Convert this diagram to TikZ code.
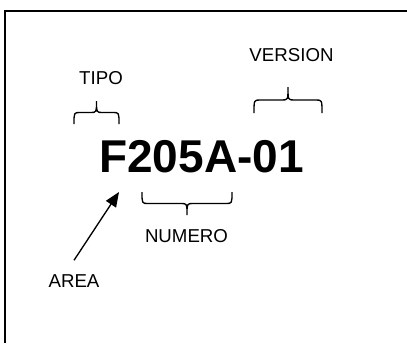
\documentclass[tikz,border=0pt]{standalone}
\usepackage{fontspec}
\setmainfont{Liberation Sans}
\usetikzlibrary{arrows.meta}
\tikzset{
  pics/llave/.style 2 args={code={
      \pgfmathsetmacro\llw{#1}
      \pgfmathsetmacro\llh{#2}
      \pgfmathsetmacro\llm{#1/2}
      \pgfmathsetmacro\llk{#2/2}
      \draw[curly] (0,0) .. controls (0,-\llk) .. (6,-\llk)
        -- (\llm-6,-\llk) .. controls (\llm,-\llk) .. (\llm,-\llh)
        .. controls (\llm,-\llk) .. (\llm+6,-\llk)
        -- (\llw-6,-\llk) .. controls (\llw,-\llk) .. (\llw,0);
  }},
}
\begin{document}
\begin{tikzpicture}[
    x=0.75pt, y=-0.75pt,
    label/.style={font=\fontsize{14pt}{16pt}\selectfont, inner sep=0pt},
    code/.style={font=\fontsize{34.5pt}{38pt}\selectfont\bfseries, inner sep=0pt},
    curly/.style={draw=black, line width=1pt},
    pointer/.style={draw=black, line width=1pt, -{Triangle[length=11pt, width=9pt]}},
  ]
  \useasboundingbox (0,0) rectangle (407,343);
  % frame (left and top edges)
  \draw[line width=1.5pt] (5,343) -- (5,11) -- (407,11);
  % code
  \node[code] (codigo) at (201.5,156.5) {F205A-01};
  % labels
  \node[label] (tipo)    at (101,78)   {TIPO};
  \node[label] (version) at (291.5,55) {VERSION};
  \node[label] (numero)  at (186.5,236) {NUMERO};
  \node[label] (area)    at (74,281)   {AREA};
  % braces
  \coordinate (t1) at (74,124);
  \coordinate (v1) at (254,113);
  \coordinate (n1) at (142,192);
  \pic at (t1) {llave={45}{23}};
  \pic at (v1) {llave={68}{26}};
  \pic[yscale=-1] at (n1) {llave={90}{23}};
  % arrow
  \coordinate (flecha) at (119,192);
  \draw[pointer] (area.north) ++(0,-14) -- (flecha);
\end{tikzpicture}
\end{document}
